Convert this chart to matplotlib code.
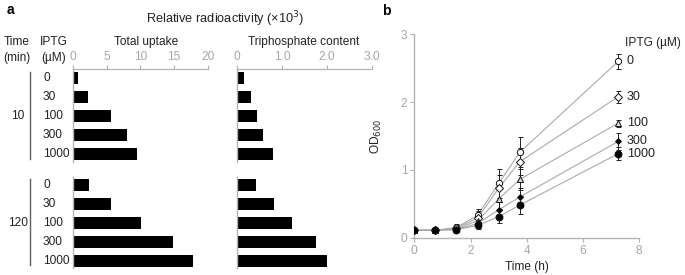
import matplotlib
matplotlib.use("Agg")
import matplotlib.pyplot as plt
import matplotlib.transforms as mtransforms
import numpy as np

plt.rcParams['font.family'] = ['Liberation Sans', 'DejaVu Sans']

# ---------------- data ----------------
times_min = ["10", "120"]
iptg_levels = ["0", "30", "100", "300", "1000"]
total_uptake_10 = [0.65, 2.2, 5.6, 8.0, 9.5]
total_uptake_120 = [2.4, 5.6, 10.1, 14.9, 17.8]
triphos_10 = [0.15, 0.30, 0.44, 0.58, 0.80]
triphos_120 = [0.42, 0.83, 1.22, 1.76, 2.00]

time_h = [0, 0.75, 1.5, 2.25, 3, 3.75, 7.25]
od_0 = [0.11, 0.11, 0.15, 0.33, 0.80, 1.26, 2.60]
od_30 = [0.11, 0.11, 0.14, 0.29, 0.73, 1.12, 2.08]
od_100 = [0.11, 0.11, 0.13, 0.25, 0.57, 0.86, 1.69]
od_300 = [0.11, 0.11, 0.12, 0.21, 0.41, 0.60, 1.42]
od_1000 = [0.11, 0.11, 0.12, 0.18, 0.31, 0.48, 1.24]
err_0 = [0.02, 0.03, 0.05, 0.10, 0.22, 0.22, 0.11]
err_30 = [0.02, 0.03, 0.05, 0.10, 0.20, 0.20, 0.09]
err_100 = [0.02, 0.03, 0.04, 0.08, 0.15, 0.16, 0.05]
err_300 = [0.02, 0.03, 0.04, 0.07, 0.12, 0.14, 0.13]
err_1000 = [0.02, 0.03, 0.04, 0.05, 0.10, 0.13, 0.10]
series_labels = ["0", "30", "100", "300", "1000"]

W, H = 685, 275
fig = plt.figure(figsize=(W / 100, H / 100), dpi=100)

def ax_px(left, top, right, bottom):
    return fig.add_axes([left / W, 1 - bottom / H, (right - left) / W, (bottom - top) / H])

def fx(px):
    return px / W

def fy(py):
    return 1 - py / H

GRAY = '#b3b3b3'
TICKC = '#a6a6a6'
DARK = '#606060'
TXT = '#222222'
FS = 8.6

# row positions (layout)
gap = 31 / 19
pos10 = np.arange(5)
pos120 = np.arange(5) + 4 + gap
ytop = -0.47
ybot = (268 - 78) / 19

def bar_panel(ax, v10, v120, xmax, ticks, ticklabels):
    ax.barh(pos10, v10, height=0.63, color='black')
    ax.barh(pos120, v120, height=0.63, color='black')
    ax.set_xlim(0, xmax)
    ax.set_ylim(ybot, ytop)
    for s in ['right', 'bottom', 'left']:
        ax.spines[s].set_visible(False)
    ax.spines['top'].set_color(GRAY)
    ax.spines['top'].set_linewidth(0.9)
    ax.xaxis.tick_top()
    ax.set_xticks(ticks)
    ax.set_xticklabels(ticklabels)
    ax.tick_params(axis='x', colors=GRAY, labelcolor=TICKC, labelsize=FS, length=3, width=0.8, pad=1.5)
    ax.set_yticks([])
    ax.plot([0, 0], [ytop, (161.7 - 78) / 19], color=GRAY, lw=1.0, clip_on=False)
    ax.plot([0, 0], [(176.7 - 78) / 19, ybot], color=GRAY, lw=1.0, clip_on=False)

ax1 = ax_px(73.3, 69, 207.6, 268)
bar_panel(ax1, total_uptake_10, total_uptake_120, 20, [0, 5, 10, 15, 20],
          ["0", "5", "10", "15", "20"])
ax2 = ax_px(237.3, 69, 371.7, 268)
bar_panel(ax2, triphos_10, triphos_120, 3.0, [0, 1, 2, 3],
          ["0", "1.0", "2.0", "3.0"])
fig.text(fx(146), fy(42), "Total uptake", ha='center', va='center', fontsize=FS, color=TXT)
fig.text(fx(304), fy(42), "Triphosphate content", ha='center', va='center', fontsize=FS, color=TXT)

# row labels
tr = mtransforms.blended_transform_factory(fig.transFigure, ax1.transData)
for p, lab in zip(pos10, iptg_levels):
    ax1.text(fx(43), p, lab, transform=tr, ha='left', va='center', fontsize=FS, color=TXT)
for p, lab in zip(pos120, iptg_levels):
    ax1.text(fx(43), p, lab, transform=tr, ha='left', va='center', fontsize=FS, color=TXT)
ax1.text(fx(17.5), pos10[2], times_min[0], transform=tr, ha='center', va='center', fontsize=FS, color=TXT)
ax1.text(fx(17.5), pos120[2], times_min[1], transform=tr, ha='center', va='center', fontsize=FS, color=TXT)
ax1.plot([fx(30), fx(30)], [(71.7 - 78) / 19, (159 - 78) / 19], transform=tr, color=DARK, lw=1.0, clip_on=False)
ax1.plot([fx(30), fx(30)], [(179 - 78) / 19, (265 - 78) / 19], transform=tr, color=DARK, lw=1.0, clip_on=False)

fig.text(fx(17), fy(42), "Time", ha='center', va='center', fontsize=FS, color=TXT)
fig.text(fx(17), fy(58), "(min)", ha='center', va='center', fontsize=FS, color=TXT)
fig.text(fx(54), fy(42), "IPTG", ha='center', va='center', fontsize=FS, color=TXT)
fig.text(fx(54), fy(58), "(µM)", ha='center', va='center', fontsize=FS, color=TXT)
fig.text(fx(225), fy(19), "Relative radioactivity (×10$^{3}$)", ha='center', va='center', fontsize=9.2, color=TXT)
fig.text(fx(10), fy(10), "a", ha='center', va='center', fontsize=10, fontweight='bold')
fig.text(fx(386), fy(11), "b", ha='center', va='center', fontsize=10, fontweight='bold')

# ---------------- panel b ----------------
axb = ax_px(414.3, 34.3, 639.3, 237.7)
axb.set_xlim(0, 8)
axb.set_ylim(0, 3)
for s in ['right', 'top']:
    axb.spines[s].set_visible(False)
for s in ['left', 'bottom']:
    axb.spines[s].set_color(GRAY)
    axb.spines[s].set_linewidth(1.0)
axb.set_xticks([0, 2, 4, 6, 8])
axb.set_yticks([0, 1, 2, 3])
axb.tick_params(colors=GRAY, labelcolor=TICKC, labelsize=FS, length=3, width=0.8, pad=2)
axb.set_xlabel("Time (h)", fontsize=FS, color=TXT, labelpad=3)
axb.set_ylabel("OD$_{600}$", fontsize=FS, color=TXT, labelpad=12)

styles = [
    (od_0, err_0, 'o', 'white', 4.5),
    (od_30, err_30, 'D', 'white', 3.6),
    (od_100, err_100, '^', '#dddddd', 4.3),
    (od_300, err_300, 'D', 'black', 3.0),
    (od_1000, err_1000, 'o', 'black', 5.0),
]
for vals, errs, m, fc, ms in styles:
    axb.plot(time_h, vals, color='#aaaaaa', lw=0.8, zorder=1)
    axb.errorbar(time_h, vals, yerr=errs, fmt='none', ecolor=TXT, elinewidth=0.7, capsize=1.8, capthick=0.7, zorder=2)
    axb.plot(time_h, vals, linestyle='none', marker=m, mfc=fc, mec='#111111', mew=0.7, ms=ms, zorder=3)

label_y = [2.60, 2.08, 1.69, 1.42, 1.24]
for y, lab in zip(label_y, series_labels):
    axb.text(7.55, y, lab, ha='left', va='center', fontsize=FS + 0.4, color=TXT)
axb.text(7.5, 2.87, "IPTG (µM)", ha='left', va='center', fontsize=FS, color=TXT)

fig.savefig("out.png", dpi=100)
